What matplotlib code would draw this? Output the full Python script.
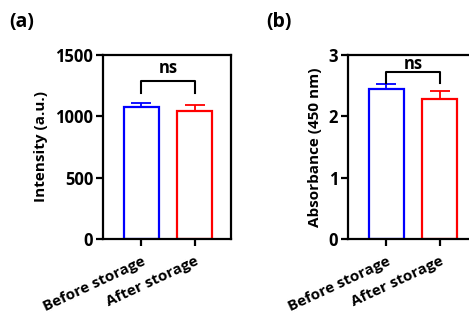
import matplotlib.pyplot as plt
import numpy as np

# data
groups = ["Before storage", "After storage"]
colors = ["#0000ff", "#ff0000"]

intensity_mean = [1080, 1045]
intensity_err = [25, 48]
intensity_ticks = [0, 500, 1000, 1500]

absorb_mean = [2.44, 2.29]
absorb_err = [0.09, 0.13]
absorb_ticks = [0, 1, 2, 3]

plt.rcParams.update({
    "font.family": ["Open Sans", "DejaVu Sans"],
    "font.weight": "bold",
    "font.size": 10,
    "axes.linewidth": 1.6,
})

W, H = 469, 320
fig = plt.figure(figsize=(W / 100, H / 100), dpi=100)


def panel(rect, means, errs, ticks, ylabel, letter, bracket, ns_y, letter_xy):
    ax = fig.add_axes(rect)
    x = np.arange(len(groups))
    ax.bar(x, means, width=0.66, facecolor="white", edgecolor=colors,
           linewidth=1.6, zorder=2)
    for xi, m, e, c in zip(x, means, errs, colors):
        ax.errorbar(xi, m, yerr=[[0], [e]], fmt="none", ecolor=c,
                    elinewidth=1.3, capsize=7, capthick=1.3, zorder=3)
    ax.set_xlim(-0.72, 1.68)
    ax.set_ylim(ticks[0], ticks[-1])
    ax.set_yticks(ticks)
    ax.set_yticklabels([str(t) for t in ticks], fontweight="bold", fontsize=12)
    ax.set_xticks(x)
    ax.set_xticklabels(groups, rotation=25, ha="right", va="top",
                       rotation_mode="anchor", fontweight="bold", fontsize=11)
    ax.tick_params(axis="both", length=5, width=1.6, pad=2)
    ax.tick_params(axis="x", pad=6)
    ax.set_ylabel(ylabel, fontweight="bold", fontsize=11, labelpad=5)
    lo, hi = bracket
    ax.plot([0, 0, 1, 1], [lo, hi, hi, lo], color="black", lw=1.5,
            clip_on=False, zorder=4)
    ax.text(0.5, ns_y, "ns", ha="center", va="baseline",
            fontweight="bold", fontsize=12)
    fig.text(letter_xy[0], letter_xy[1], letter, fontweight="bold",
             fontsize=14, ha="left", va="top")
    return ax


panel([103 / W, 1 - 239 / H, 128 / W, 184 / H], intensity_mean, intensity_err,
      intensity_ticks, "Intensity (a.u.)", "(a)", (1190, 1290), 1350,
      (9 / W, 1 - 12 / H))
panel([348 / W, 1 - 239 / H, 128 / W, 184 / H], absorb_mean, absorb_err,
      absorb_ticks, "Absorbance (450 nm)", "(b)", (2.55, 2.73), 2.77,
      (266 / W, 1 - 12 / H))

fig.savefig("out.png", dpi=100)
